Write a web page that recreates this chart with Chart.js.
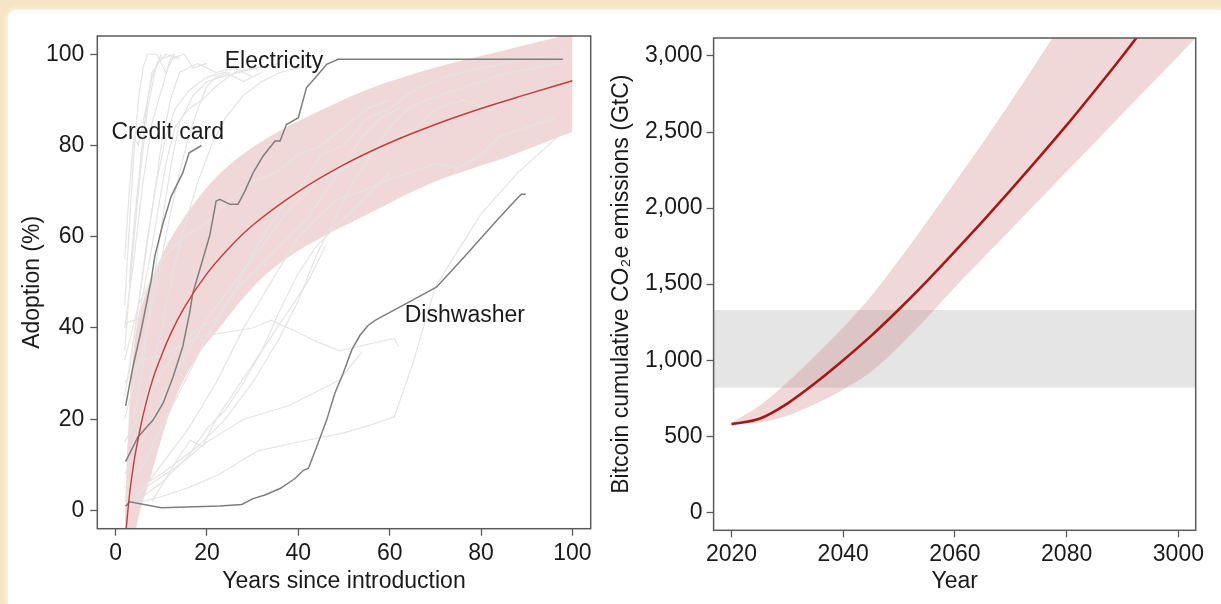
<!DOCTYPE html>
<html>
<head>
<meta charset="utf-8">
<script src="https://cdn.jsdelivr.net/npm/chart.js@4.4.1/dist/chart.umd.min.js"></script>
<style>
    html, body { margin: 0; padding: 0; }
    body { width: 1221px; height: 604px; background: #f6e5c4; position: relative; overflow: hidden; }
    #card { position: absolute; left: 8px; top: 10px; right: 0; bottom: 0; background: #fff; border-top-left-radius: 8px; box-shadow: 0 0 4px 2px #fbf2e2; }
    canvas { position: absolute; top: 0; }
    #adoptionChart { left: 0; }
    #bitcoinChart { left: 600px; }
</style>
</head>
<body>
<div id="card"></div>
<canvas id="adoptionChart" width="600" height="604"></canvas>
<canvas id="bitcoinChart" width="621" height="604"></canvas>
<script>
// ---- left panel: adoption curves ----
const adoptionXTicks = [0, 20, 40, 60, 80, 100];
const adoptionYTicks = [0, 20, 40, 60, 80, 100];

const creditCardX = [2.2, 3.8, 5.6, 7.8, 8.6, 10.4, 12.2, 14.7, 16.1, 18.8];
const creditCardY = [22.9, 31.5, 39.5, 50.5, 55.8, 63, 68.9, 74, 78.4, 80];

const electricityX = [2.2, 4.9, 8.2, 10.4, 12.6, 14.7, 16.2, 16.9, 20.6, 22, 22.8, 25, 26.8, 28.3, 30.1, 32.3, 34.9, 36, 37.4, 40, 41.8, 44, 46.2, 48.7, 97.9];
const electricityY = [10.7, 16.1, 19.8, 23.5, 29.3, 35.9, 43.2, 47.6, 60.2, 67.8, 68.2, 67.1, 67.1, 70, 74, 77.7, 81, 81, 84.6, 86.1, 92.7, 95.2, 97.8, 98.9, 98.9];

const dishwasherX = [2.2, 3.1, 10, 22.8, 27.6, 30.1, 32.7, 36, 39.3, 41.1, 42.2, 44, 46.2, 48, 49.8, 51.7, 53.5, 55.3, 56.9, 65, 70.3, 76.5, 82.3, 86.3, 88.8, 89.8];
const dishwasherY = [0.9, 1.9, 0.6, 1.0, 1.3, 2.6, 3.4, 4.8, 7, 8.8, 9.2, 13.9, 19.8, 25.7, 30, 35.2, 38.4, 40.6, 41.7, 46.1, 49, 55.8, 62.3, 66.7, 69.3, 69.3];

const fitX = [2.3, 3, 4, 5, 6, 8, 10, 12, 15, 20, 25, 30, 40, 50, 60, 70, 80, 90, 100];
const fitY = [-4.3, 3, 10.5, 16, 20.8, 28.3, 33.8, 38.6, 44.4, 51.9, 57.7, 62.5, 69.9, 75.8, 80.6, 84.6, 88.1, 91.2, 94.2];

const fitUpperX = [2, 2.3, 2.8, 3.4, 4.5, 6, 7.8, 11.1, 14.7, 18.4, 23, 30, 37.4, 44.7, 55, 69, 86, 100];
const fitUpperY = [-5, 6.6, 18, 28.6, 39.5, 45.8, 50.5, 57.8, 63.8, 68.9, 74, 79.6, 84, 87.6, 92.2, 96.8, 101.1, 104.5];
const fitLowerX = [2, 3, 4.5, 7.5, 11.8, 16.9, 23.5, 31.6, 40, 55.7, 69.2, 86.3, 100];
const fitLowerY = [-27, -16, -4.3, 6.6, 21.3, 32.2, 41, 50.5, 56.9, 65.2, 71.8, 77.7, 83];

// faint traces of the other technologies, as [years, adoption] pairs
const otherTechnologies = [
    [[2, 45], [3, 62], [4, 78], [5, 90], [6, 97], [7, 100], [9, 100], [11, 96], [13, 100]],
    [[2, 35], [3, 48], [5, 70], [7, 88], [9, 98], [11, 100], [14, 99]],
    [[2, 40], [4, 55], [6, 72], [8, 85], [10, 92], [12, 99], [15, 100], [17, 97], [20, 98]],
    [[2, 25], [4, 38], [6, 52], [8, 66], [10, 80], [12, 90], [14, 96], [18, 98], [22, 96], [26, 97], [30, 95]],
    [[3, 30], [5, 45], [7, 60], [9, 72], [11, 82], [13, 88], [16, 92], [20, 95], [24, 96], [28, 94], [32, 96]],
    [[2, 55], [3, 70], [4, 82], [5, 80], [6, 85], [8, 95], [10, 100]],
    [[4, 20], [6, 32], [8, 48], [10, 62], [12, 75], [14, 85], [17, 91], [20, 94], [23, 95], [27, 96], [31, 97], [36, 98]],
    [[2, 41], [5, 42], [8, 58], [11, 76], [13, 84], [16, 88], [19, 90], [22, 93], [26, 96], [30, 97]],
    [[3, 12], [6, 22], [9, 35], [12, 50], [15, 62], [18, 72], [21, 80], [24, 86], [28, 91], [32, 94], [36, 96], [40, 97], [45, 98]],
    [[2, 5], [6, 10], [10, 18], [15, 28], [20, 38], [26, 48], [31, 58], [36, 66], [40, 70], [45, 78], [50, 80], [55, 86], [60, 88], [65, 92], [72, 95], [80, 97], [90, 99], [98, 100]],
    [[2, 8], [8, 20], [14, 32], [20, 42], [26, 50], [32, 58], [38, 66], [44, 72], [50, 75], [56, 78], [62, 82], [66, 84], [70, 88], [76, 90], [82, 88], [86, 90]],
    [[4, 2], [10, 10], [16, 18], [22, 28], [28, 40], [34, 50], [40, 60], [44, 64], [48, 68], [54, 70], [58, 72], [64, 74], [70, 76], [75, 75], [80, 78], [84, 82], [90, 84], [96, 86]],
    [[2, 15], [6, 22], [10, 30], [14, 36], [18, 40], [22, 42], [26, 48], [30, 52], [34, 56], [38, 60], [42, 64], [46, 70], [50, 76], [54, 82], [58, 86], [62, 88]],
    [[2, 3], [10, 8], [18, 14], [24, 20], [30, 28], [36, 38], [40, 46], [44, 56], [48, 64], [52, 72], [56, 78], [60, 84], [64, 88], [68, 90], [74, 92], [80, 94], [86, 96], [92, 97], [97, 98]],
    [[2, 28], [6, 33], [10, 34], [14, 36], [18, 38], [24, 39], [30, 40], [34, 41.7], [40, 39], [44, 37], [49, 35], [56, 36.6], [61, 37.7], [62, 35.9]],
    [[2, 2], [8, 6], [14, 10], [20, 15], [28, 20], [38, 23], [49, 28.6], [54, 34.8]],
    [[2, 1], [10, 3], [16, 5], [22.8, 8], [31, 13], [40, 15], [50, 17], [55.7, 18.7], [61, 20.5], [65, 32], [70, 49], [75, 57], [80, 65], [88, 74], [98, 83]],
    [[3, 1], [10, 6], [16, 12], [20, 18], [24, 22], [28, 28], [32, 35], [36, 44], [40, 52], [44, 58], [48, 62], [52, 66], [56, 70], [60, 74]],
    [[2, 33], [5, 45], [10, 55], [15, 60], [20, 63], [25, 68], [30, 72], [35, 74], [40, 78], [45, 80], [50, 84], [55, 88], [60, 90]],
    [[8, 2], [14, 12], [16.4, 15.4], [19, 14], [22, 20], [26, 26], [30, 32], [34, 38], [38, 44], [42, 50], [46, 58]],
    [[2, 20], [4, 28], [6, 35], [8, 45], [10, 55], [12, 65], [14, 74], [16, 82], [18, 88], [20, 93], [22, 95], [25, 96]],
    [[3, 50], [4, 62], [5, 72], [6, 82], [7, 90], [8, 96], [10, 99], [13, 100]]
];

const seriesLabels = [
    { text: 'Credit card', x: -0.9, y: 82.9 },
    { text: 'Electricity', x: 23.9, y: 98.4 },
    { text: 'Dishwasher', x: 63.3, y: 42.8 }
];

// ---- right panel: bitcoin emissions ----
const years = [2020, 2025, 2030, 2035, 2040, 2045, 2050, 2055, 2060, 2065, 2070, 2075, 2080, 2085, 2090, 2095, 2100, 2105];
const emissionsMid = [580, 615, 715, 850, 1000, 1160, 1335, 1520, 1715, 1915, 2120, 2330, 2545, 2770, 3000, 3240, 3480, 3720];
const emissionsUpper = [590, 700, 855, 1030, 1215, 1420, 1660, 1910, 2170, 2430, 2700, 2980, 3260, 3540, 3820, 4100, 4380, 4660];
const emissionsLower = [578, 590, 635, 712, 808, 925, 1090, 1280, 1480, 1670, 1860, 2050, 2240, 2430, 2620, 2810, 3000, 3190];
const budgetRange = [820, 1330];
const yearTicks = [2020, 2040, 2060, 2080, 2100];
const yearTickLabels = ['2020', '2040', '2060', '2080', '3000'];
const emissionTicks = [0, 500, 1000, 1500, 2000, 2500, 3000];

const FONT = '"Liberation Sans", Arial, Helvetica, sans-serif';
Chart.defaults.font.family = FONT;
Chart.defaults.font.size = 23;
Chart.defaults.color = '#1a1a1a';

const pts = (xs, ys) => xs.map((x, i) => ({ x: x, y: ys[i] }));

const frame = {
    id: 'frame',
    afterDraw(chart) {
        const { ctx, chartArea: a } = chart;
        ctx.save();
        ctx.strokeStyle = '#5a5a5a';
        ctx.lineWidth = 1.5;
        ctx.strokeRect(a.left, a.top, a.right - a.left, a.bottom - a.top);
        ctx.restore();
    }
};

const textLabels = {
    id: 'textLabels',
    afterDatasetsDraw(chart) {
        const { ctx, scales } = chart;
        ctx.save();
        ctx.font = '23px ' + FONT;
        ctx.fillStyle = '#1a1a1a';
        ctx.textBaseline = 'middle';
        seriesLabels.forEach(l => {
            ctx.fillText(l.text, scales.x.getPixelForValue(l.x), scales.y.getPixelForValue(l.y));
        });
        ctx.restore();
    }
};

const budgetBand = {
    id: 'budgetBand',
    beforeDatasetsDraw(chart) {
        const { ctx, chartArea: a, scales } = chart;
        const top = scales.y.getPixelForValue(budgetRange[1]);
        const bottom = scales.y.getPixelForValue(budgetRange[0]);
        ctx.save();
        ctx.fillStyle = '#e5e5e5';
        ctx.fillRect(a.left, top, a.right - a.left, bottom - top);
        ctx.restore();
    }
};

function axisStyle(ticks, fitSize, horizontal, title, titlePad) {
    return {
        type: 'linear',
        afterBuildTicks: s => { s.ticks = ticks.map(v => ({ value: v })); },
        afterFit: s => { if (horizontal) s.height = fitSize; else s.width = fitSize; },
        grid: { drawOnChartArea: false, drawTicks: true, tickLength: 7, tickColor: '#5a5a5a', tickWidth: 1.3 },
        border: { display: false },
        ticks: { padding: 4, maxRotation: 0, autoSkip: false, color: '#1a1a1a' },
        title: { display: true, text: title, color: '#1a1a1a', padding: { top: titlePad, bottom: titlePad } }
    };
}

const greyTraces = otherTechnologies.map(t => ({
    data: t.map(p => ({ x: p[0], y: p[1] })),
    borderColor: '#e4e4e4',
    borderWidth: 1.2,
    pointRadius: 0,
    fill: false,
    order: 5
}));

const adoptionX = axisStyle(adoptionXTicks, 75.3, true, 'Years since introduction', 8.2);
adoptionX.min = -4; adoptionX.max = 104;
const adoptionY = axisStyle(adoptionYTicks, 97.3, false, 'Adoption (%)', 19.2);
adoptionY.min = -4; adoptionY.max = 104;
adoptionY.ticks.padding = 6;

new Chart(document.getElementById('adoptionChart'), {
    type: 'line',
    data: {
        datasets: [
            { data: pts(fitX, fitY), borderColor: '#c43c3c', borderWidth: 1.4, pointRadius: 0, cubicInterpolationMode: 'monotone', fill: false, order: 0 },
            { data: pts(creditCardX, creditCardY), borderColor: '#7e7e7e', borderWidth: 1.5, pointRadius: 0, fill: false, order: 1 },
            { data: pts(electricityX, electricityY), borderColor: '#7e7e7e', borderWidth: 1.5, pointRadius: 0, fill: false, order: 1 },
            { data: pts(dishwasherX, dishwasherY), borderColor: '#7e7e7e', borderWidth: 1.5, pointRadius: 0, fill: false, order: 1 },
            { data: pts(fitUpperX, fitUpperY), borderWidth: 0, borderColor: 'rgba(0,0,0,0)', pointRadius: 0, cubicInterpolationMode: 'monotone',
              fill: '+1', backgroundColor: 'rgba(200,110,110,0.27)', order: 8 },
            { data: pts(fitLowerX, fitLowerY), borderWidth: 0, borderColor: 'rgba(0,0,0,0)', pointRadius: 0, cubicInterpolationMode: 'monotone', fill: false, order: 9 }
        ].concat(greyTraces)
    },
    options: {
        responsive: false,
        animation: false,
        devicePixelRatio: 1,
        layout: { padding: { left: 0, top: 36, right: 9.3, bottom: 0 } },
        plugins: { legend: { display: false }, tooltip: { enabled: false } },
        scales: { x: adoptionX, y: adoptionY }
    },
    plugins: [frame, textLabels]
});

const yearAxis = axisStyle(yearTicks, 73.7, true, 'Year', 8.2);
yearAxis.min = 2016.8; yearAxis.max = 2103.1;
yearAxis.ticks.callback = v => yearTickLabels[yearTicks.indexOf(v)];
const emissionAxis = axisStyle(emissionTicks, 113.6, false, 'Bitcoin cumulative CO\u2082e emissions (GtC)', 8.2);
emissionAxis.min = -118; emissionAxis.max = 3118;
emissionAxis.ticks.callback = v => v.toLocaleString('en-US');

new Chart(document.getElementById('bitcoinChart'), {
    type: 'line',
    data: {
        datasets: [
            { data: pts(years, emissionsMid), borderColor: '#a51818', borderWidth: 2.6, pointRadius: 0, cubicInterpolationMode: 'monotone', fill: false, order: 0 },
            { data: pts(years, emissionsUpper), borderWidth: 0, borderColor: 'rgba(0,0,0,0)', pointRadius: 0, cubicInterpolationMode: 'monotone',
              fill: '+1', backgroundColor: 'rgba(200,110,110,0.27)', order: 1 },
            { data: pts(years, emissionsLower), borderWidth: 0, borderColor: 'rgba(0,0,0,0)', pointRadius: 0, cubicInterpolationMode: 'monotone', fill: false, order: 2 }
        ]
    },
    options: {
        responsive: false,
        animation: false,
        devicePixelRatio: 1,
        layout: { padding: { left: 0, top: 38, right: 25.3, bottom: 0 } },
        plugins: { legend: { display: false }, tooltip: { enabled: false } },
        scales: { x: yearAxis, y: emissionAxis }
    },
    plugins: [budgetBand, frame]
});
</script>
</body>
</html>
